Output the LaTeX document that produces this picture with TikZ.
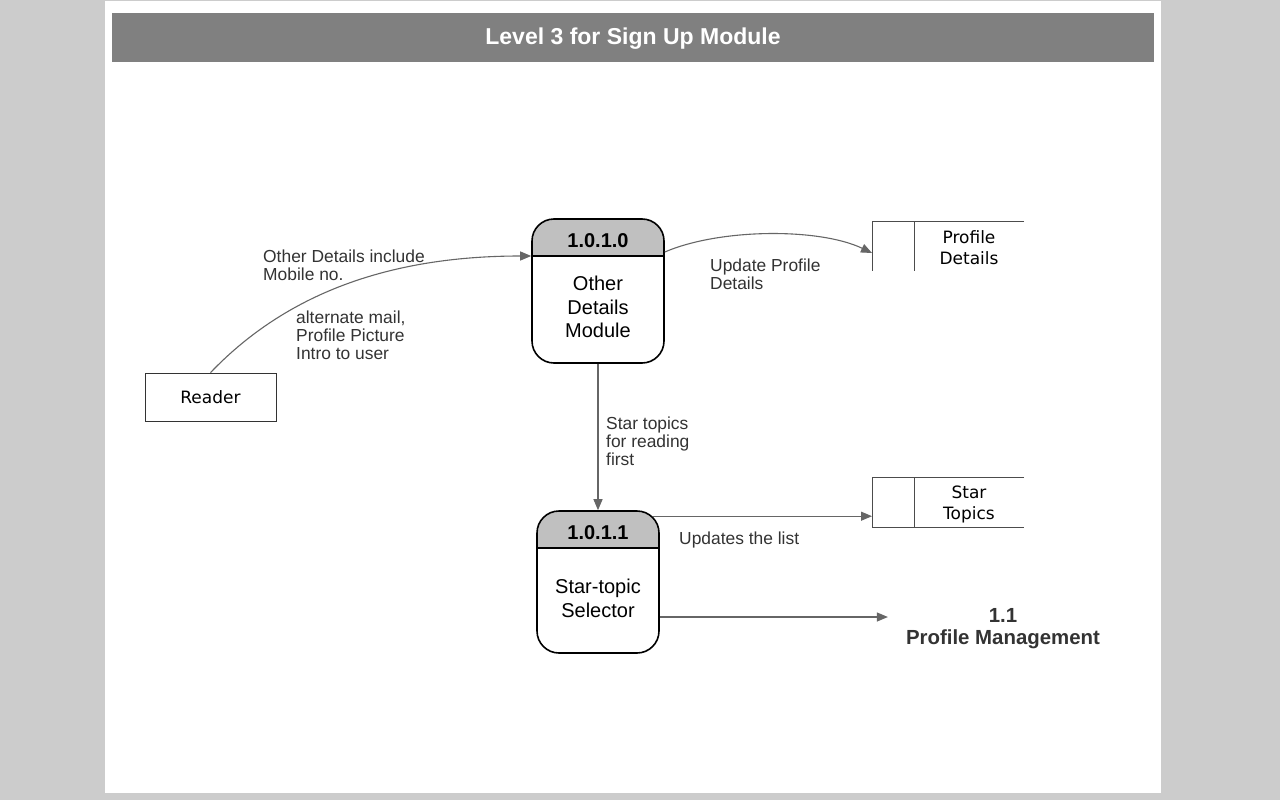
\documentclass[tikz,border=0pt]{standalone}
\usepackage{fontspec}
\setmainfont{Liberation Sans}
\newfontfamily\dvfont{DejaVu Sans}
\usetikzlibrary{arrows.meta}
\definecolor{pagegray}{RGB}{204,204,204}
\definecolor{titlegray}{RGB}{128,128,128}
\definecolor{hdrgray}{RGB}{192,192,192}
\definecolor{flowgray}{RGB}{102,102,102}
\definecolor{textgray}{RGB}{51,51,51}

\begin{document}
\begin{tikzpicture}[x=1pt, y=-1pt,
  proc/.style={draw=black, line width=1.6pt, rounded corners=22pt, fill=white, inner sep=0pt,
    path picture={
      \fill[hdrgray, sharp corners] (path picture bounding box.north west) rectangle ([yshift=-37pt]path picture bounding box.north east);
      \draw[line width=1.6pt, sharp corners] ([yshift=-37pt]path picture bounding box.north west) -- ([yshift=-37pt]path picture bounding box.north east);}},
  idtext/.style={inner sep=0pt, font=\bfseries\fontsize{20}{24}\selectfont},
  bodytext/.style={inner sep=0pt, align=center, font=\fontsize{20}{23.5}\selectfont},
  ext/.style={draw=textgray, line width=0.8pt, minimum width=131pt, minimum height=48pt, font=\dvfont\fontsize{17}{21}\selectfont},
  storetext/.style={inner sep=0pt, align=center, font=\dvfont\fontsize{17}{21}\selectfont},
  storeline/.style={draw=black!70, line width=0.8pt},
  flow/.style={draw=flowgray, line width=1.1pt, -{Triangle[length=11pt,width=9pt]}},
  lbl/.style={anchor=north west, inner sep=0pt, align=left, text=textgray, font=\fontsize{17.4}{18}\selectfont}
]

% ---- page ----
\fill[pagegray] (0,0) rectangle (1280,800);
\fill[white] (105,1) rectangle (1161,793);
\useasboundingbox (0,0) rectangle (1280,800);

% ---- title bar ----
\fill[titlegray] (112,13) rectangle (1154,62);
\node[text=white, font=\bfseries\fontsize{23}{26}\selectfont] (title) at (633,39) {Level 3 for Sign Up Module};

% ---- processes ----
\node[proc, minimum width=132pt, minimum height=144pt] (odm) at (598,291) {};
\node[idtext] (odm-id) at ([yshift=-22pt]odm.north) {1.0.1.0};
\node[bodytext] (odm-txt) at ([yshift=-16pt]odm.center) {Other\\Details\\Module};

\node[proc, minimum width=122pt, minimum height=142pt] (sel) at (598,582) {};
\node[idtext] (sel-id) at ([yshift=-22pt]sel.north) {1.0.1.1};
\node[bodytext] (sel-txt) at ([yshift=-16.5pt]sel.center) {Star-topic\\Selector};

% ---- external entity ----
\node[ext] (reader) at (210.5,397) {Reader};

% ---- data stores (right part 110 wide, left cell 42 wide) ----
\coordinate (pdet-c) at (969,246);
\node[storetext] (pdet) at (969,248) {Profile\\Details};
\draw[storeline] ([xshift=55pt,yshift=25pt]pdet-c) -- ([xshift=-97pt,yshift=25pt]pdet-c) -- ([xshift=-97pt,yshift=-25pt]pdet-c);
\draw[storeline] ([xshift=-55pt,yshift=25pt]pdet-c) -- ([xshift=-55pt,yshift=-25pt]pdet-c);

\coordinate (stop-c) at (969,502);
\node[storetext] (stop) at (969,504) {Star\\Topics};
\draw[storeline] ([xshift=55pt,yshift=25pt]stop-c) -- ([xshift=-97pt,yshift=25pt]stop-c) -- ([xshift=-97pt,yshift=-25pt]stop-c) -- ([xshift=55pt,yshift=-25pt]stop-c);
\draw[storeline] ([xshift=-55pt,yshift=25pt]stop-c) -- ([xshift=-55pt,yshift=-25pt]stop-c);

% ---- next level ----
\node[inner ysep=0pt, inner xsep=18pt, align=center, text=textgray,
  font=\bfseries\fontsize{20.4}{22}\selectfont] (pm) at (1003,629) {1.1\\Profile Management};

% ---- flows ----
\coordinate (odm-in) at ([yshift=35pt]odm.west);
\coordinate (odm-out) at ([yshift=39pt]odm.east);
\coordinate (pdet-in) at ([xshift=-97pt,yshift=-7pt]pdet-c);
\coordinate (stop-in) at ([xshift=-97pt]stop-c);
\coordinate (sel-up) at ([xshift=-7pt,yshift=-6pt]sel.north east);
\coordinate (sel-out) at ([yshift=-35pt]sel.east);

\draw[flow] (reader.north) .. controls +(70,-73) and +(-152,0) .. (odm-in);
\draw[flow] (odm-out) .. controls +(56,-24) and +(-52,-25) .. (pdet-in);
\draw[flow] (odm) -- (sel);
\draw[flow] (sel-up) -- (sel-up -| stop-in);
\draw[flow] (sel-out) -- (sel-out -| pm.west);

% ---- flow labels ----
\node[lbl] (lbl-other) at (263,250) {Other Details include\\Mobile no.};
\node[lbl] (lbl-alt) at (296,311) {alternate mail,\\Profile Picture\\Intro to user};
\node[lbl] (lbl-upd) at (710,259) {Update Profile\\Details};
\node[lbl] (lbl-star) at (606,417) {Star topics\\for reading\\first};
\node[lbl] (lbl-list) at (679,532) {Updates the list};

\end{tikzpicture}
\end{document}
